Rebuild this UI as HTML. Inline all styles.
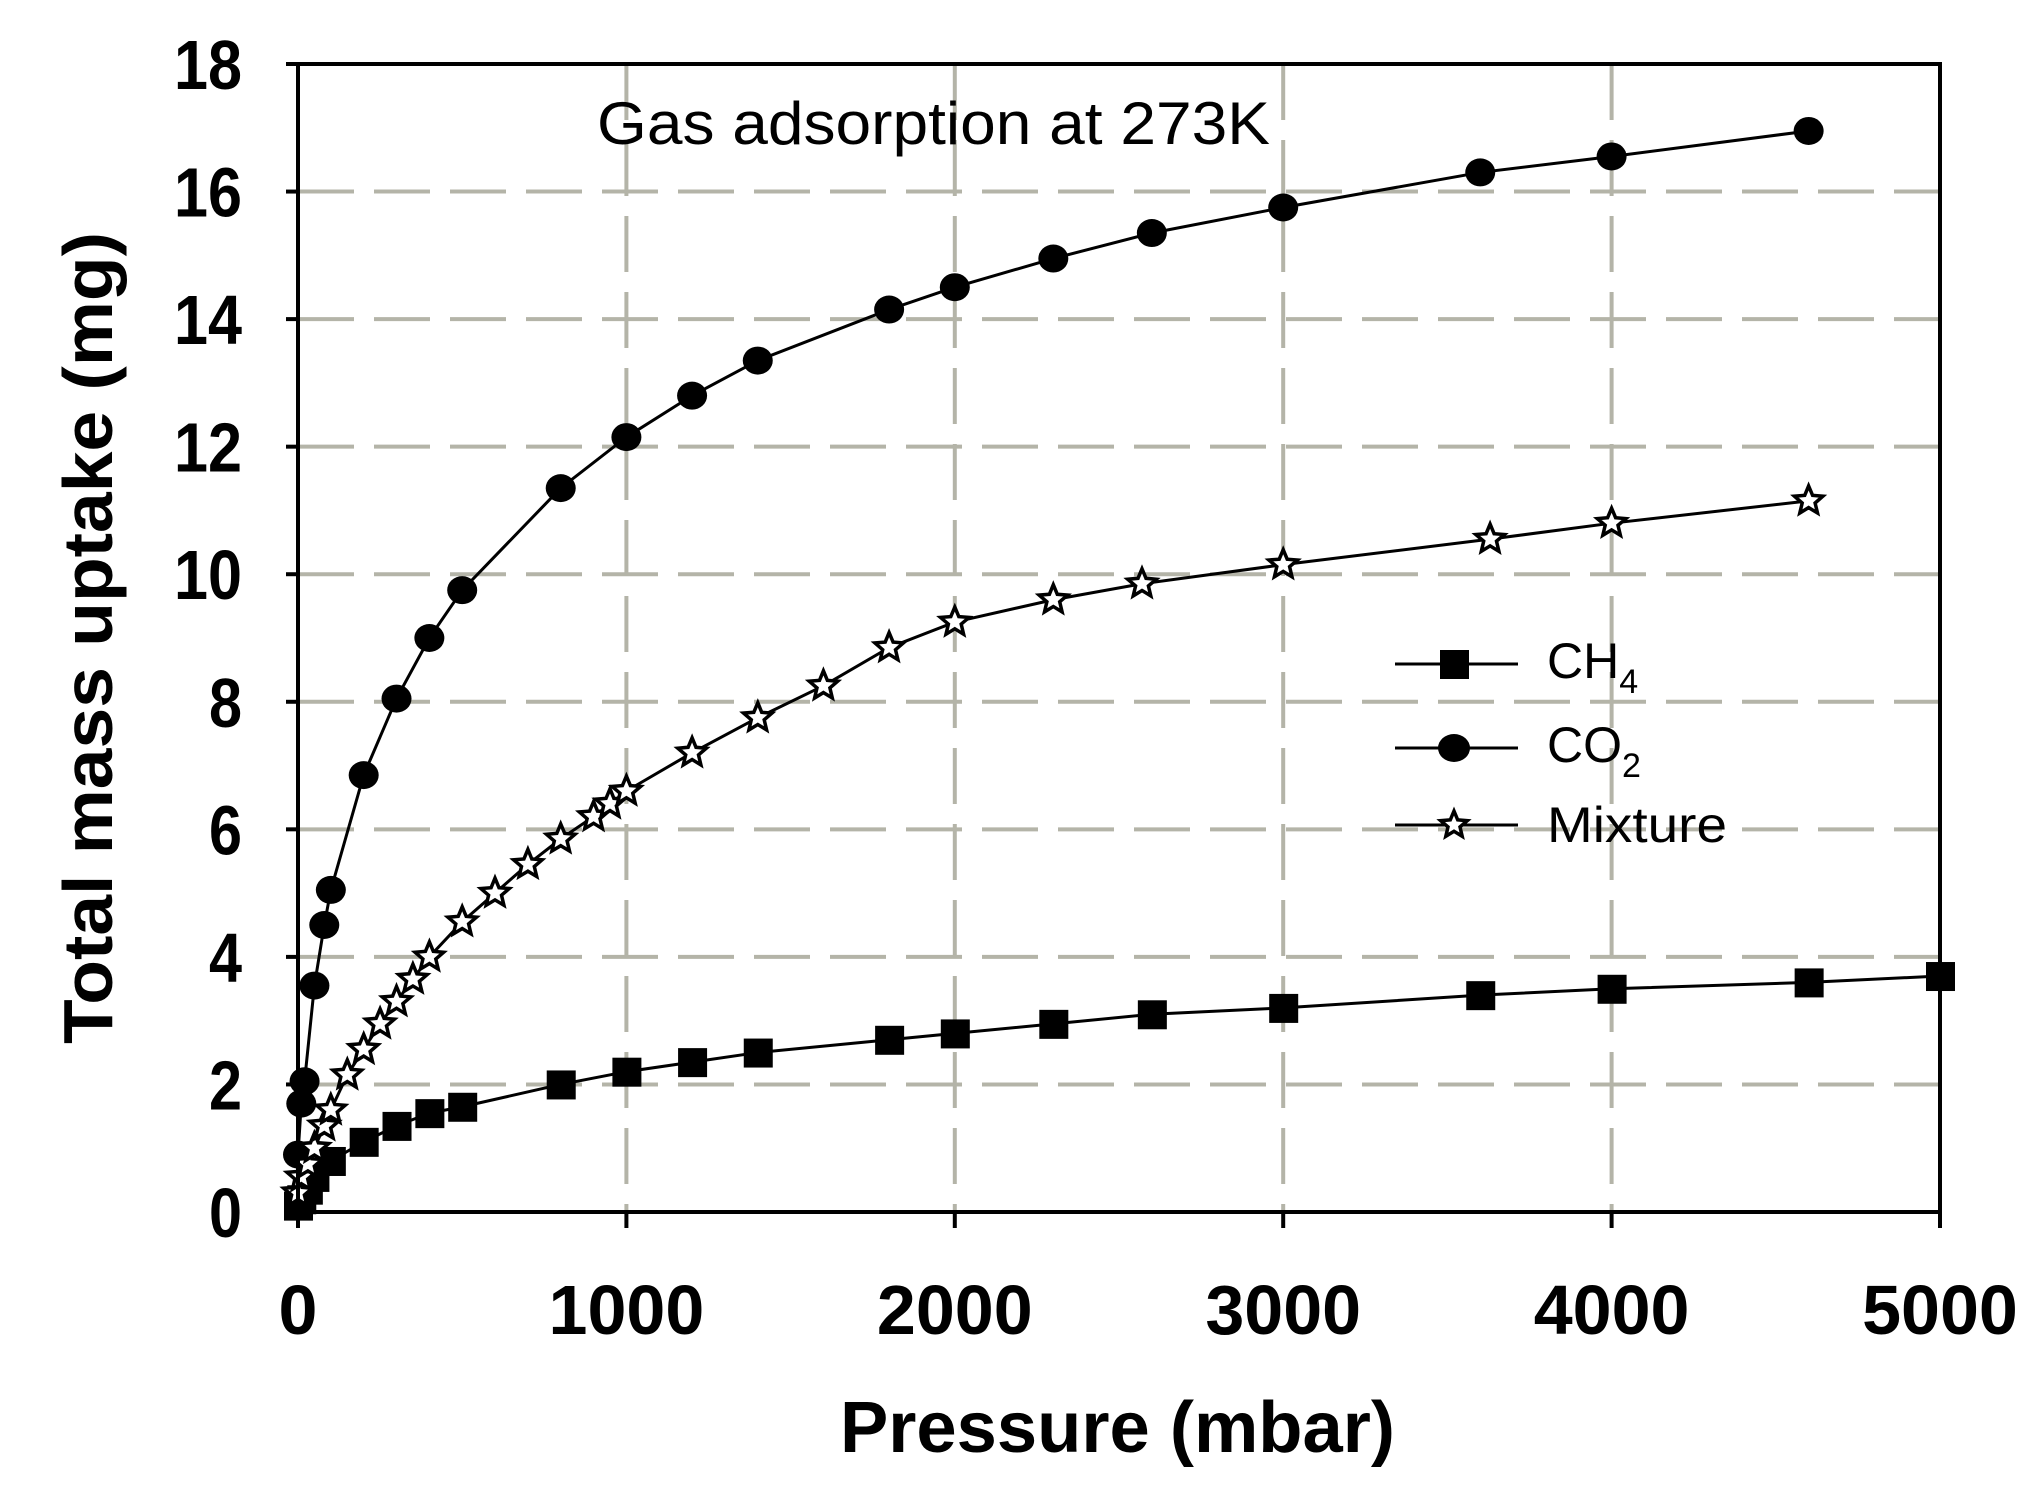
<!DOCTYPE html>
<html><head><meta charset="utf-8"><style>
html,body{margin:0;padding:0;background:#fff;}
svg{display:block;}
text{font-family:"Liberation Sans",Arial,sans-serif;fill:#000;}
</style></head><body>
<svg id="s" width="2021" height="1497" viewBox="0 0 2021 1497" xmlns="http://www.w3.org/2000/svg">
<rect width="2021" height="1497" fill="#fff"/>
<g id="grid" stroke="#b4b4a8" stroke-width="4" stroke-dasharray="56,20"></g>
<g id="series"></g>
<rect x="298" y="64" width="1642" height="1148" fill="none" stroke="#000" stroke-width="4"/>
<g id="ticks" stroke="#000" stroke-width="4"></g>
<text x="597" y="144" font-size="60" textLength="673" lengthAdjust="spacingAndGlyphs">Gas adsorption at 273K</text>
<g font-weight="bold" font-size="70" id="ylab"></g>
<g font-weight="bold" font-size="70" text-anchor="middle" id="xlab"></g>
<text x="840" y="1452" font-weight="bold" font-size="72" textLength="555" lengthAdjust="spacingAndGlyphs">Pressure (mbar)</text>
<text transform="translate(112,1044) rotate(-90)" font-weight="bold" font-size="70" textLength="812" lengthAdjust="spacingAndGlyphs">Total mass uptake (mg)</text>
<g stroke="#000" stroke-width="3">
<line x1="1395" y1="664" x2="1518" y2="664"/>
<line x1="1395" y1="748" x2="1518" y2="748"/>
<line x1="1395" y1="825" x2="1518" y2="825"/>
</g>
<rect x="1440" y="650" width="29" height="29" fill="#000"/>
<ellipse cx="1454" cy="748" rx="16" ry="14" fill="#000"/>
<g id="legstar"></g>
<text x="1547" y="678" font-size="50">CH<tspan font-size="34" dy="15">4</tspan></text>
<text x="1547" y="762" font-size="50">CO<tspan font-size="34" dy="15">2</tspan></text>
<text x="1547" y="842" font-size="50" textLength="180" lengthAdjust="spacingAndGlyphs">Mixture</text>
</svg>
<script>
var NS="http://www.w3.org/2000/svg";
function X(v){return 298+v*1642/5000;}
function Y(v){return 1212-v*1148/18;}
function el(t,a,p){var e=document.createElementNS(NS,t);for(var k in a)e.setAttribute(k,a[k]);document.getElementById(p).appendChild(e);return e;}
for(var i=1;i<9;i++)el("line",{x1:298,x2:1940,y1:Y(2*i),y2:Y(2*i)},"grid");
for(var i=1;i<5;i++)el("line",{x1:X(1000*i),x2:X(1000*i),y1:64,y2:1212},"grid");
for(var i=0;i<=9;i++){el("line",{x1:286,x2:298,y1:Y(2*i),y2:Y(2*i)},"ticks");
 var s=String(2*i);var w=s.length==1?33:68;
 var t=el("text",{x:242-w,y:Y(2*i)+25,textLength:w,lengthAdjust:"spacingAndGlyphs"},"ylab");t.textContent=s;}
for(var i=0;i<=5;i++){el("line",{x1:X(1000*i),x2:X(1000*i),y1:1212,y2:1228},"ticks");
 var t=el("text",{x:X(1000*i),y:1334},"xlab");t.textContent=String(1000*i);}
var co2=[[0,0.9],[10,1.7],[20,2.05],[50,3.55],[80,4.5],[100,5.05],[200,6.85],[300,8.05],[400,9.0],[500,9.75],[800,11.35],[1000,12.15],[1200,12.8],[1400,13.35],[1800,14.15],[2000,14.5],[2300,14.95],[2600,15.35],[3000,15.75],[3600,16.3],[4000,16.55],[4600,16.95]];
var mix=[[0,0.3],[10,0.55],[30,0.75],[50,1.0],[80,1.35],[100,1.6],[150,2.15],[200,2.55],[250,2.95],[300,3.3],[350,3.65],[400,4.0],[500,4.55],[600,5.0],[700,5.45],[800,5.85],[900,6.2],[950,6.4],[1000,6.6],[1200,7.2],[1400,7.75],[1600,8.25],[1800,8.85],[2000,9.25],[2300,9.6],[2570,9.85],[3000,10.15],[3630,10.55],[4000,10.8],[4600,11.15]];
var ch4=[[0,0.1],[10,0.2],[30,0.35],[50,0.55],[100,0.8],[200,1.1],[300,1.35],[400,1.55],[500,1.65],[800,2.0],[1000,2.2],[1200,2.35],[1400,2.5],[1800,2.7],[2000,2.8],[2300,2.95],[2600,3.1],[3000,3.2],[3600,3.4],[4000,3.5],[4600,3.6],[5000,3.7]];
function line(d){el("polyline",{points:d.map(function(p){return X(p[0])+","+Y(p[1]);}).join(" "),fill:"none",stroke:"#000","stroke-width":3},"series");}
line(co2);line(mix);line(ch4);
function star(cx,cy,r,p){var pts=[];for(var k=0;k<10;k++){var a=-Math.PI/2+k*Math.PI/5,rr=k%2?r*0.45:r;pts.push((cx+rr*Math.cos(a)).toFixed(1)+","+(cy+rr*Math.sin(a)).toFixed(1));}
 el("polygon",{points:pts.join(" "),fill:"#fff",stroke:"#000","stroke-width":3.5,"stroke-linejoin":"miter"},p);}
ch4.forEach(function(p){el("rect",{x:X(p[0])-14,y:Y(p[1])-14,width:29,height:29,fill:"#000"},"series");});
co2.forEach(function(p){el("ellipse",{cx:X(p[0]),cy:Y(p[1]),rx:15,ry:14,fill:"#000"},"series");});
mix.forEach(function(p){star(X(p[0]),Y(p[1]),15,"series");});
star(1454,825,14,"legstar");
</script>
</body></html>
